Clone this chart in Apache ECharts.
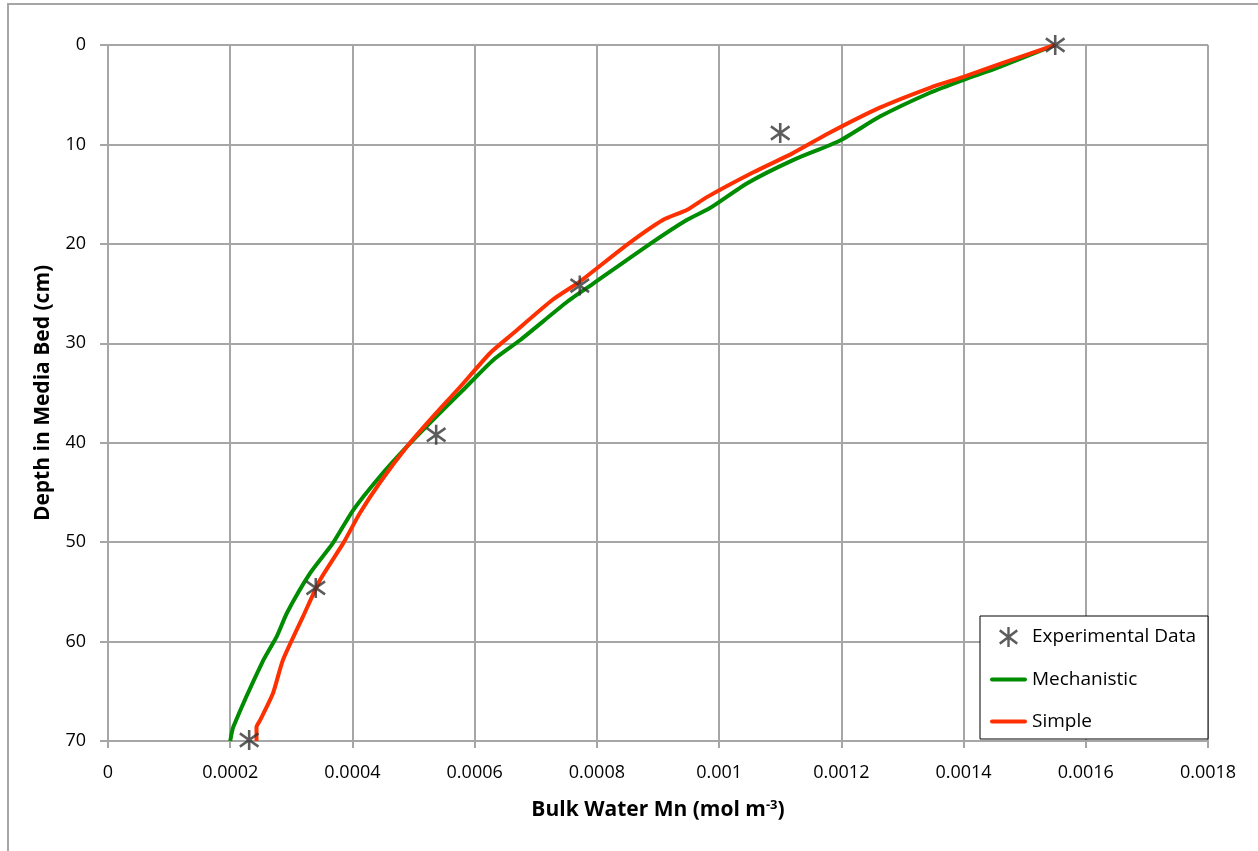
<!DOCTYPE html>
<html>
<head>
<meta charset="utf-8">
<script src="https://cdn.jsdelivr.net/npm/echarts@6/dist/echarts.min.js"></script>
<style>
  html, body { margin: 0; padding: 0; background: #fff; }
  #main { width: 1258px; height: 851px; }
</style>
</head>
<body>
<div id="main"></div>
<script>
// measured points: [Mn (mol m-3), depth (cm)]
var experimental = [
    [0.00155, 0], [0.0011, 8.85], [0.000772, 24.2],
    [0.000537, 39.2], [0.00034, 54.6], [0.000231, 69.9]
];

var mechanistic = [
    [0.00155, 0], [0.001455, 2.3], [0.0014, 3.5], [0.001345, 4.8],
    [0.001263, 7.2], [0.001198, 9.6], [0.00112, 11.6], [0.001046, 13.9],
    [0.000985, 16.4], [0.000947, 17.6], [0.000887, 20], [0.000794, 24],
    [0.000752, 25.8], [0.000674, 29.7], [0.00063, 31.7], [0.000581, 34.7],
    [0.000527, 38], [0.000489, 40.4], [0.000445, 43.4], [0.000401, 46.8],
    [0.000368, 50.1], [0.000331, 53.1], [0.000293, 57.1], [0.000276, 59.5],
    [0.000254, 61.9], [0.000205, 68.6], [0.0002, 70]
];

var simple = [
    [0.00155, 0], [0.001455, 2.0], [0.0014, 3.2], [0.001345, 4.3],
    [0.001263, 6.3], [0.00118, 8.85], [0.00112, 10.9], [0.001056, 12.8],
    [0.00098, 15.3], [0.000947, 16.6], [0.000908, 17.6], [0.000849, 20.1],
    [0.000772, 23.8], [0.000728, 25.6], [0.000663, 29], [0.000625, 31],
    [0.000576, 34.4], [0.000527, 37.7], [0.000489, 40.4], [0.000445, 44],
    [0.000412, 47.1], [0.000385, 50.1], [0.000347, 53.8], [0.000319, 57.5],
    [0.000286, 61.9], [0.00027, 65.2], [0.000249, 67.9], [0.000243, 68.6],
    [0.000243, 70]
];

var seriesNames = ['Experimental Data', 'Mechanistic', 'Simple'];

// asterisk marker: vertical bar + two diagonal bars
var star = 'path://M8.8,0L11.2,0L11.2,20L8.8,20Z M0.6,4.6L1.9,2.3L19.4,15.4L18.1,17.7Z M18.1,2.3L19.4,4.6L1.9,17.7L0.6,15.4Z';
// legend line icon, round ends
var lineIcon = 'path://M2,0L35,0A2,2,0,0,1,35,4L2,4A2,2,0,0,1,2,0Z';

var font = '"Open Sans", sans-serif';
var gridColor = '#a6a6a6';

var myChart = echarts.init(document.getElementById('main'));

myChart.setOption({
    animation: false,
    backgroundColor: '#fff',
    graphic: [{
        type: 'rect',
        shape: { x: 8, y: 4, width: 1300, height: 900 },
        style: { fill: 'none', stroke: gridColor, lineWidth: 2 },
        silent: true
    }],
    grid: {
        left: 108,
        right: 50,
        top: 45,
        bottom: 110
    },
    legend: {
        orient: 'vertical',
        left: 980,
        top: 616,
        padding: [11, 12, 8, 10],
        itemGap: 23,
        itemWidth: 37,
        itemHeight: 20,
        borderColor: '#000',
        borderWidth: 1,
        backgroundColor: '#fff',
        textStyle: { fontFamily: font, fontSize: 19, color: '#000' },
        data: [
            { name: seriesNames[0] },
            { name: seriesNames[1], icon: lineIcon },
            { name: seriesNames[2], icon: lineIcon }
        ]
    },
    xAxis: {
        type: 'value',
        min: 0,
        max: 0.0018,
        interval: 0.0002,
        name: 'Bulk Water Mn (mol m{sup|-3})',
        nameLocation: 'middle',
        nameGap: 58,
        nameTextStyle: {
            fontFamily: font, fontSize: 21, fontWeight: 'bold', color: '#000',
            rich: { sup: { fontFamily: font, fontSize: 13, fontWeight: 'bold', verticalAlign: 'top', padding: [0, 0, 9, 0] } }
        },
        axisLine: { onZero: false, lineStyle: { color: gridColor, width: 2 } },
        axisTick: { show: true, length: 7, lineStyle: { color: gridColor, width: 2 } },
        axisLabel: {
            margin: 23,
            fontFamily: font, fontSize: 18, color: '#000',
            formatter: function (v) { return String(parseFloat(v.toFixed(4))); }
        },
        splitLine: { lineStyle: { color: gridColor, width: 2 } }
    },
    yAxis: {
        type: 'value',
        inverse: true,
        min: 0,
        max: 70,
        interval: 10,
        name: 'Depth in Media Bed (cm)',
        nameLocation: 'middle',
        nameGap: 54,
        nameTextStyle: { fontFamily: font, fontSize: 21, fontWeight: 'bold', color: '#000' },
        axisLine: { show: true, lineStyle: { color: gridColor, width: 2 } },
        axisTick: { show: true, length: 8, lineStyle: { color: gridColor, width: 2 } },
        axisLabel: { margin: 22, fontFamily: font, fontSize: 18, color: '#000' },
        splitLine: { lineStyle: { color: gridColor, width: 2 } }
    },
    series: [
        {
            name: seriesNames[0],
            type: 'scatter',
            symbol: star,
            symbolSize: 20,
            z: 5,
            itemStyle: { color: '#333' },
            data: experimental
        },
        {
            name: seriesNames[1],
            type: 'line',
            symbol: 'none',
            smooth: 0.2,
            lineStyle: { color: '#008c00', width: 4 },
            itemStyle: { color: '#008c00' },
            data: mechanistic
        },
        {
            name: seriesNames[2],
            type: 'line',
            symbol: 'none',
            smooth: 0.2,
            lineStyle: { color: '#ff3000', width: 4 },
            itemStyle: { color: '#ff3000' },
            data: simple
        }
    ]
});
</script>
</body>
</html>
